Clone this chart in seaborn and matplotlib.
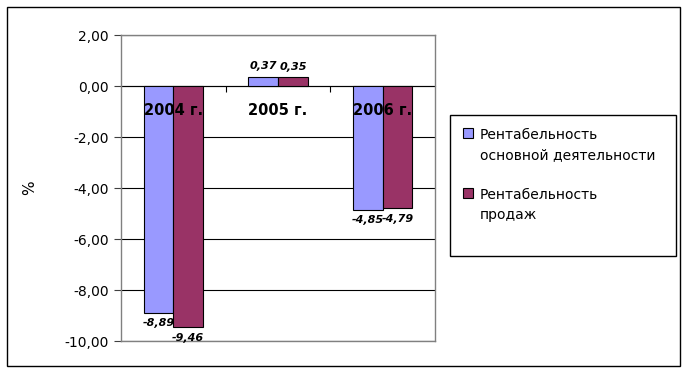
import numpy as np
import pandas as pd
import matplotlib
matplotlib.use("Agg")
import matplotlib.pyplot as plt
from matplotlib.patches import Rectangle
from matplotlib.ticker import FuncFormatter
import seaborn as sns

# data
years = ['2004 г.', '2005 г.', '2006 г.']
series_names = ['Рентабельность\nосновной деятельности', 'Рентабельность\nпродаж']
rent_osn = [-8.89, 0.37, -4.85]
rent_prod = [-9.46, 0.35, -4.79]
y_ticks = [-10, -8, -6, -4, -2, 0, 2]

df = pd.DataFrame({
    'year': years * 2,
    'series': [series_names[0]] * 3 + [series_names[1]] * 3,
    'value': rent_osn + rent_prod,
})

sns.set_style("white")
plt.rcParams['font.family'] = ['DejaVu Sans']
plt.rcParams['text.color'] = 'black'
plt.rcParams['axes.labelcolor'] = 'black'
plt.rcParams['ytick.color'] = 'black'

fig = plt.figure(figsize=(6.89, 3.73), dpi=100)
ax = fig.add_axes([121 / 689, 1 - 341 / 373, 314 / 689, 306 / 373])

sns.barplot(data=df, x='year', y='value', hue='series', order=years,
            hue_order=series_names, palette=['#9999FF', '#993366'],
            saturation=1, edgecolor='black', linewidth=0.8, width=0.57,
            ax=ax, zorder=3)

ax.set_xlim(-0.5, 2.5)
ax.set_ylim(-10, 2)
ax.set_yticks(y_ticks)
ax.yaxis.set_major_formatter(FuncFormatter(lambda v, p: f"{v:.2f}".replace('.', ',')))
ax.tick_params(axis='y', direction='out', length=5, color='#404040',
               labelsize=10, labelcolor='black', left=True, pad=4)
ax.set_xticks([])
ax.set_xlabel('')
ax.set_ylabel('%', fontsize=11)
ax.yaxis.set_label_coords((37 - 121) / 314, 0.5)

# gridlines
ax.grid(axis='y', color='black', linewidth=0.8, zorder=1)
ax.set_axisbelow(True)
for s in ax.spines.values():
    s.set_color('#808080')
    s.set_linewidth(1)
    s.set_visible(True)

# ticks on the zero line between categories
sec = ax.secondary_xaxis(10 / 12)
sec.set_xticks([0.5, 1.5])
sec.set_xticklabels([])
sec.tick_params(direction='in', length=4, color='black')
sec.spines['bottom'].set_color('black')
sec.spines['bottom'].set_linewidth(1)

# category names
for i, name in enumerate(years):
    ax.text(i, -0.98, name, ha='center', va='center', fontsize=10.5,
            fontweight='bold', zorder=5)

# value labels
for cont in ax.containers:
    ax.bar_label(cont, labels=[f"{b.get_height():.2f}".replace('.', ',') for b in cont],
                 padding=4, fontsize=8, fontweight='bold', fontstyle='italic')

# legend
handles, labels = ax.get_legend_handles_labels()
ax.get_legend().remove()
leg = fig.legend(handles, labels, loc='upper left',
                 bbox_to_anchor=(452 / 689, 1 - 117 / 373),
                 frameon=False, fontsize=10, handlelength=0.7, handleheight=0.7,
                 handletextpad=0.5, labelspacing=1.9, borderpad=0.3)
for t in leg.get_texts():
    t.set_linespacing(1.5)
for h in leg.legend_handles:
    h.set_edgecolor('black')
# put the colour square next to the first line of each entry
for col in leg._legend_handle_box.get_children():
    for item in col.get_children():
        item.align = 'top'
fig.patches.append(Rectangle((450 / 689, 1 - 256 / 373), 226 / 689, 141 / 373,
                             transform=fig.transFigure, fill=False,
                             edgecolor='black', linewidth=1))

# outer chart border
fig.patches.append(Rectangle((7 / 689, 7 / 373), 673 / 689, 359 / 373,
                             transform=fig.transFigure, fill=False,
                             edgecolor='black', linewidth=1))

fig.savefig('out.png', dpi=100)
